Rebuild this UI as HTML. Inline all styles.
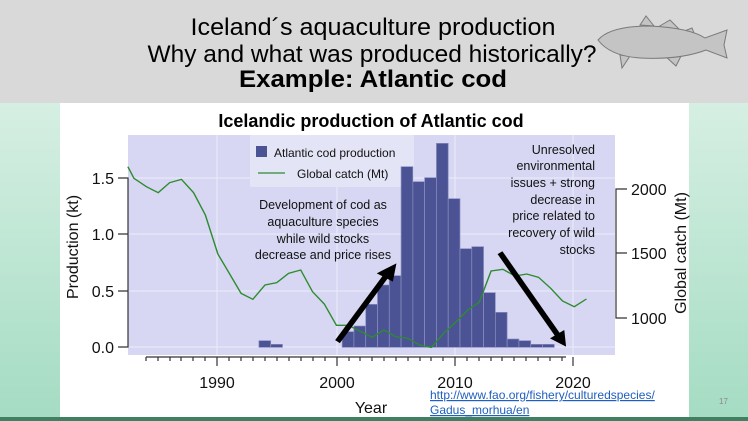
<!DOCTYPE html><html><head><meta charset="utf-8"><style>body{margin:0}svg{display:block}</style></head><body>
<svg width="748" height="421" viewBox="0 0 748 421" xmlns="http://www.w3.org/2000/svg" font-family="Liberation Sans, Arial, sans-serif">
<defs><linearGradient id="g" x1="0" y1="0" x2="0" y2="1"><stop offset="0" stop-color="#e6f5ee"/><stop offset="1" stop-color="#a4dcc2"/></linearGradient></defs>
<rect width="748" height="421" fill="url(#g)"/>
<rect x="0" y="0" width="748" height="103" fill="#d9d9d9"/>
<rect x="60" y="103" width="629" height="314" fill="#fff"/>
<rect x="0" y="417" width="748" height="4" fill="#3f7f62"/>
<g text-anchor="middle" fill="#000">
<text x="373" y="35" font-size="24" textLength="365" lengthAdjust="spacingAndGlyphs">Iceland´s aquaculture production</text>
<text x="372" y="62" font-size="24" textLength="449" lengthAdjust="spacingAndGlyphs">Why and what was produced historically?</text>
<text x="373" y="87" font-size="24" font-weight="bold" textLength="268" lengthAdjust="spacingAndGlyphs">Example: Atlantic cod</text>
</g>
<g fill="#c4c4c4" stroke="#7a7a7a" stroke-width="1">
<path d="M640 25 L646 16 L654 26Z M658 27 L670 20 L680 30Z M682 32 L692 28 L696 38Z M664 55 L676 66 L682 54Z M620 55 L622 68 L630 56Z"/>
<path d="M598 40 Q610 26 650 26 Q690 28 705 38 L727 30 L724 45 L727 58 L706 50 Q680 60 640 58 Q610 56 598 40Z"/>
</g>
<rect x="128" y="135" width="487" height="220" fill="#d7d7f3"/>
<g stroke="#ececfa" stroke-width="1">
<line x1="217" y1="135" x2="217" y2="355"/><line x1="337" y1="135" x2="337" y2="355"/><line x1="455" y1="135" x2="455" y2="355"/><line x1="573" y1="135" x2="573" y2="355"/>
<line x1="128" y1="347" x2="615" y2="347"/><line x1="128" y1="291" x2="615" y2="291"/><line x1="128" y1="234" x2="615" y2="234"/><line x1="128" y1="178" x2="615" y2="178"/>
</g>
<rect x="250" y="135" width="164" height="52" fill="#e4e4f7"/>
<g transform="translate(100,100) scale(0.35714,0.33333)">
<g fill="#4b5394" stroke="#8a8fc0" stroke-width="2">
<rect x="445" y="722" width="33" height="20"/><rect x="478" y="733" width="33" height="9"/>
<rect x="678" y="695" width="33" height="47"/><rect x="711" y="678" width="33" height="64"/><rect x="744" y="613" width="33" height="129"/><rect x="777" y="555" width="33" height="187"/><rect x="810" y="527" width="33" height="215"/><rect x="843" y="200" width="33" height="542"/><rect x="876" y="245" width="33" height="497"/><rect x="909" y="233" width="33" height="509"/><rect x="942" y="130" width="33" height="612"/><rect x="975" y="296" width="33" height="446"/><rect x="1008" y="446" width="33" height="296"/><rect x="1041" y="440" width="33" height="302"/><rect x="1074" y="578" width="33" height="164"/><rect x="1107" y="637" width="33" height="105"/><rect x="1140" y="717" width="33" height="25"/><rect x="1173" y="722" width="33" height="20"/><rect x="1206" y="733" width="33" height="9"/><rect x="1239" y="733" width="33" height="9"/>
</g>
<polyline fill="none" stroke="#2e8b2e" stroke-width="4" points="78,200 95,235 130,260 163,278 195,248 228,238 262,278 295,345 330,462 362,520 395,580 428,598 462,555 495,548 528,520 562,510 595,575 628,612 662,676 695,676 712,685 762,712 795,690 828,710 862,715 895,735 928,742 962,700 995,668 1030,630 1062,607 1095,513 1128,508 1162,528 1195,522 1228,532 1262,565 1295,603 1328,620 1362,597"/>
<g stroke="#000" stroke-width="16" fill="#000">
<line x1="665" y1="725" x2="805" y2="522"/><polygon points="830,490 775,520 820,545" stroke="none"/>
<line x1="1120" y1="458" x2="1285" y2="710"/><polygon points="1305,740 1260,715 1300,690" stroke="none"/>
</g>
</g>
<rect x="256" y="146" width="11" height="11" fill="#4b5394"/>
<line x1="258" y1="173" x2="285" y2="173" stroke="#2e8b2e" stroke-width="1.3"/>
<g font-size="12" fill="#111">
<text x="274" y="157">Atlantic cod production</text>
<text x="297" y="178">Global catch (Mt)</text>
</g>
<g font-size="12.5" fill="#111" text-anchor="middle">
<text x="323" y="209">Development of cod as</text><text x="323" y="226">aquaculture species</text><text x="323" y="243">while wild stocks</text><text x="323" y="259">decrease and price rises</text>
</g>
<g font-size="12.5" fill="#111" text-anchor="end">
<text x="595" y="154">Unresolved</text><text x="595" y="170">environmental</text><text x="595" y="187">issues + strong</text><text x="595" y="204">decrease in</text><text x="595" y="220">price related to</text><text x="595" y="237">recovery of wild</text><text x="595" y="254">stocks</text>
</g>
<text x="371" y="127" font-size="18" font-weight="bold" text-anchor="middle">Icelandic production of Atlantic cod</text>
<g stroke="#333" stroke-width="1.2" fill="none">
<path d="M118 178H128V347H118M118 234H128M118 291H128"/>
<path d="M627 189H616V318H627M616 253H627"/>
<path d="M146 357H566"/>
</g>
<g stroke="#333" stroke-width="1.2">
<line x1="146" y1="357" x2="146" y2="361"/><line x1="158" y1="357" x2="158" y2="361"/><line x1="170" y1="357" x2="170" y2="361"/><line x1="181" y1="357" x2="181" y2="361"/><line x1="193" y1="357" x2="193" y2="361"/><line x1="205" y1="357" x2="205" y2="361"/><line x1="217" y1="357" x2="217" y2="366"/><line x1="229" y1="357" x2="229" y2="361"/><line x1="241" y1="357" x2="241" y2="361"/><line x1="253" y1="357" x2="253" y2="361"/><line x1="265" y1="357" x2="265" y2="361"/><line x1="277" y1="357" x2="277" y2="361"/><line x1="289" y1="357" x2="289" y2="361"/><line x1="301" y1="357" x2="301" y2="361"/><line x1="313" y1="357" x2="313" y2="361"/><line x1="325" y1="357" x2="325" y2="361"/><line x1="337" y1="357" x2="337" y2="366"/><line x1="349" y1="357" x2="349" y2="361"/><line x1="360" y1="357" x2="360" y2="361"/><line x1="372" y1="357" x2="372" y2="361"/><line x1="384" y1="357" x2="384" y2="361"/><line x1="396" y1="357" x2="396" y2="361"/><line x1="408" y1="357" x2="408" y2="361"/><line x1="420" y1="357" x2="420" y2="361"/><line x1="431" y1="357" x2="431" y2="361"/><line x1="443" y1="357" x2="443" y2="361"/><line x1="455" y1="357" x2="455" y2="366"/><line x1="467" y1="357" x2="467" y2="361"/><line x1="479" y1="357" x2="479" y2="361"/><line x1="491" y1="357" x2="491" y2="361"/><line x1="502" y1="357" x2="502" y2="361"/><line x1="514" y1="357" x2="514" y2="361"/><line x1="526" y1="357" x2="526" y2="361"/><line x1="538" y1="357" x2="538" y2="361"/><line x1="550" y1="357" x2="550" y2="361"/><line x1="562" y1="357" x2="562" y2="361"/><line x1="573" y1="357" x2="573" y2="366"/>
</g>
<g font-size="16" fill="#111" text-anchor="end">
<text x="114" y="184">1.5</text><text x="114" y="240">1.0</text><text x="114" y="297">0.5</text><text x="114" y="353">0.0</text>
</g>
<g font-size="16" fill="#111">
<text x="631" y="195">2000</text><text x="631" y="259">1500</text><text x="631" y="324">1000</text>
</g>
<g font-size="16" fill="#111" text-anchor="middle">
<text x="217" y="388">1990</text><text x="337" y="388">2000</text><text x="455" y="388">2010</text><text x="573" y="388">2020</text>
<text x="371" y="413">Year</text>
<text transform="translate(78,247) rotate(-90)">Production (kt)</text>
<text transform="translate(686,253) rotate(-90)">Global catch (Mt)</text>
</g>
<g font-size="12" fill="#1f5fbf" text-decoration="underline">
<text x="430" y="399">http://www.fao.org/fishery/culturedspecies/</text>
<text x="430" y="414">Gadus_morhua/en</text>
</g>
<text x="719" y="404" font-size="8" fill="#888">17</text>
</svg>
</body></html>
